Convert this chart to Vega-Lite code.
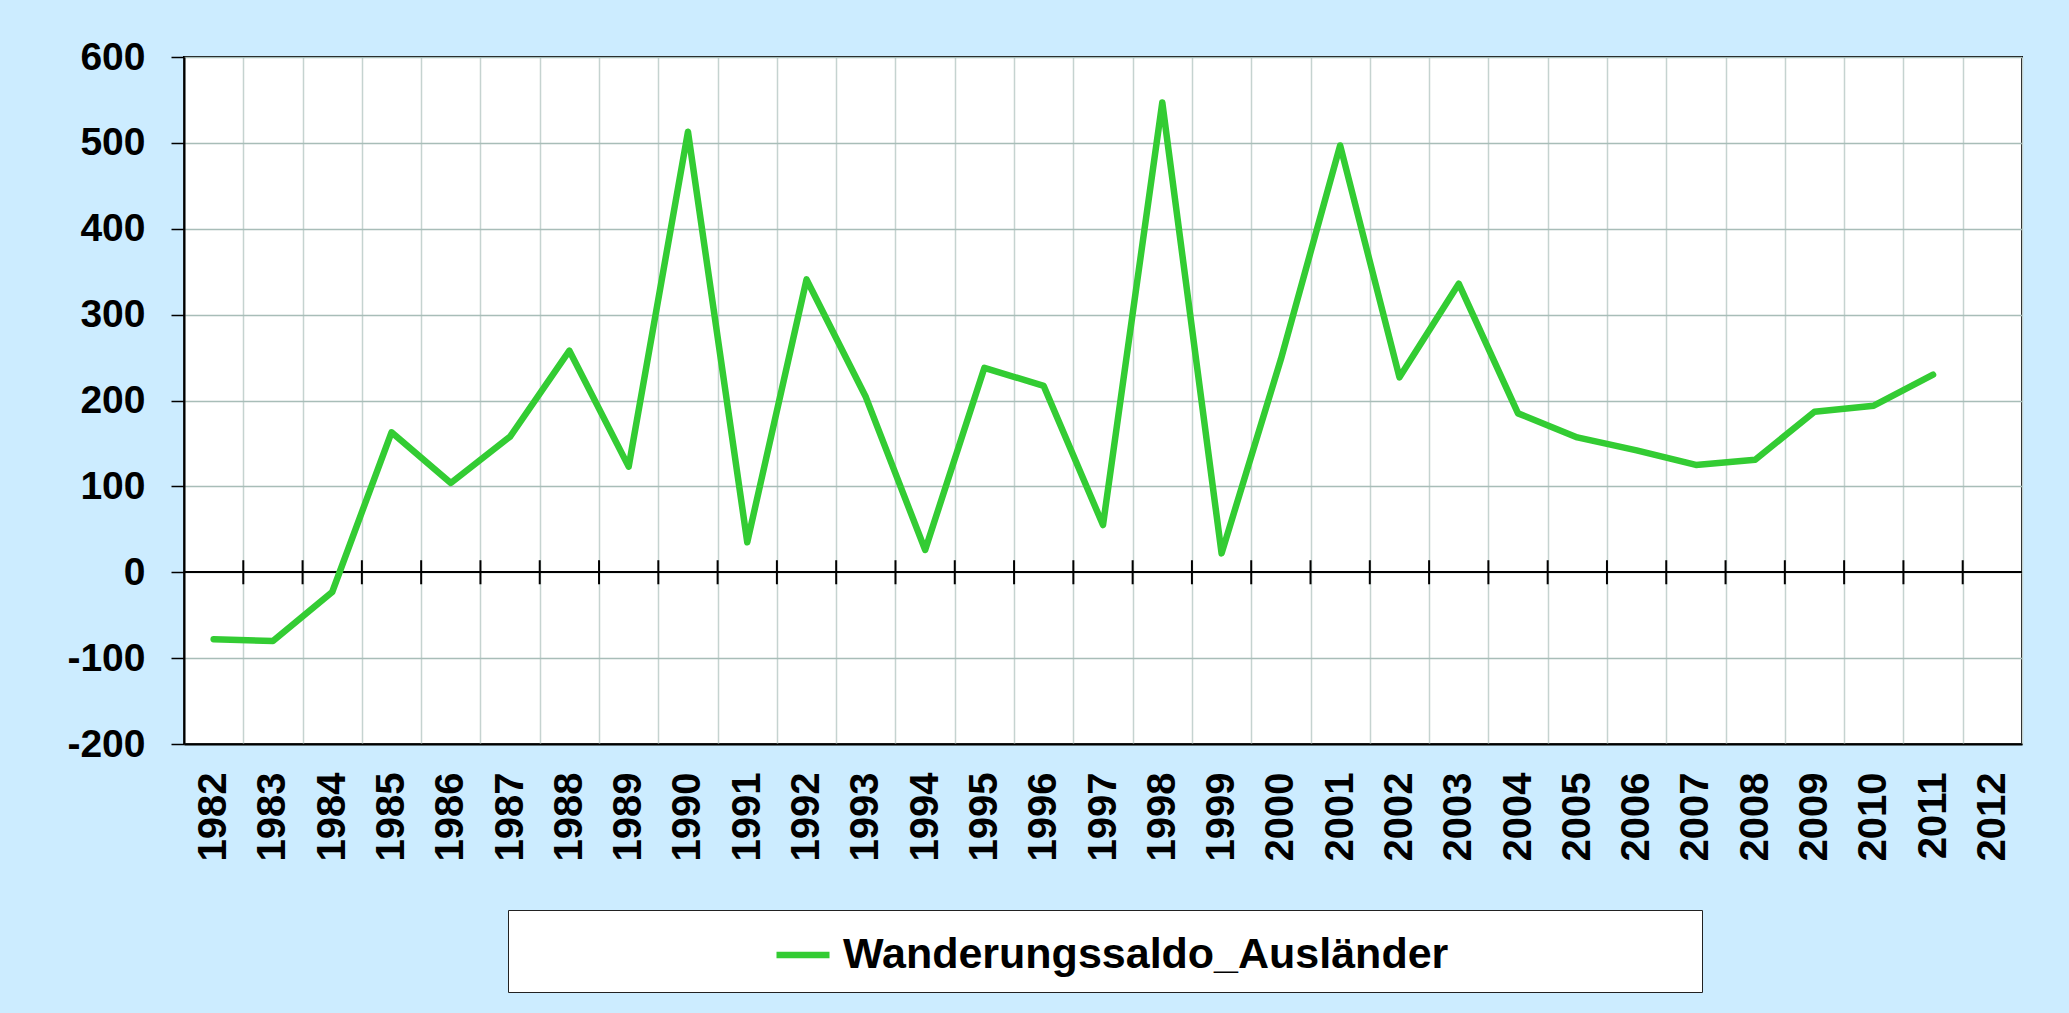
{
  "$schema": "https://vega.github.io/schema/vega-lite/v6.json",
  "autosize": {"type": "none"},
  "width": 1838,
  "height": 687,
  "padding": {"left": 184, "top": 57, "right": 47, "bottom": 269},
  "background": "#CCECFF",
  "config": {
    "font": "Liberation Sans",
    "view": {"fill": "white", "stroke": "black", "strokeWidth": 2}
  },
  "data": {
    "values": [
      {"Jahr": "1982", "Wert": -78},
      {"Jahr": "1983", "Wert": -80},
      {"Jahr": "1984", "Wert": -23},
      {"Jahr": "1985", "Wert": 163},
      {"Jahr": "1986", "Wert": 104},
      {"Jahr": "1987", "Wert": 158},
      {"Jahr": "1988", "Wert": 258},
      {"Jahr": "1989", "Wert": 123},
      {"Jahr": "1990", "Wert": 513},
      {"Jahr": "1991", "Wert": 35},
      {"Jahr": "1992", "Wert": 341},
      {"Jahr": "1993", "Wert": 204},
      {"Jahr": "1994", "Wert": 26},
      {"Jahr": "1995", "Wert": 238},
      {"Jahr": "1996", "Wert": 217},
      {"Jahr": "1997", "Wert": 55},
      {"Jahr": "1998", "Wert": 547},
      {"Jahr": "1999", "Wert": 22},
      {"Jahr": "2000", "Wert": 248},
      {"Jahr": "2001", "Wert": 497},
      {"Jahr": "2002", "Wert": 227},
      {"Jahr": "2003", "Wert": 336},
      {"Jahr": "2004", "Wert": 185},
      {"Jahr": "2005", "Wert": 157},
      {"Jahr": "2006", "Wert": 142},
      {"Jahr": "2007", "Wert": 125},
      {"Jahr": "2008", "Wert": 131},
      {"Jahr": "2009", "Wert": 187},
      {"Jahr": "2010", "Wert": 194},
      {"Jahr": "2011", "Wert": 230},
      {"Jahr": "2012", "Wert": null}
    ]
  },
  "layer": [
    {
      "mark": {"type": "rule", "color": "black", "strokeWidth": 1.5},
      "encoding": {
        "y": {"datum": 0, "type": "quantitative"}
      }
    },
    {
      "transform": [{"filter": "datum.Jahr != '1982'"}],
      "mark": {"type": "rule", "color": "black", "strokeWidth": 2},
      "encoding": {
        "x": {"field": "Jahr", "type": "ordinal", "bandPosition": 0},
        "y": {"datum": -14, "type": "quantitative"},
        "y2": {"datum": 14}
      }
    },
    {
      "mark": {"type": "line", "strokeWidth": 6.5, "strokeCap": "round", "strokeJoin": "round"},
      "encoding": {
        "x": {
          "field": "Jahr",
          "type": "ordinal",
          "bandPosition": 0.5,
          "scale": {
            "type": "band",
            "paddingInner": 0,
            "paddingOuter": 0,
            "domain": ["1982","1983","1984","1985","1986","1987","1988","1989","1990","1991","1992","1993","1994","1995","1996","1997","1998","1999","2000","2001","2002","2003","2004","2005","2006","2007","2008","2009","2010","2011","2012"]
          },
          "axis": {
            "title": null,
            "labelAngle": -90,
            "labelFontSize": 40,
            "labelFontWeight": "bold",
            "labelColor": "black",
            "ticks": false,
            "tickSize": 0,
            "labelPadding": 28,
            "tickBand": "extent",
            "grid": true,
            "gridColor": "#C5D3D0",
            "gridWidth": 1.5,
            "domainColor": "black",
            "domainWidth": 2
          }
        },
        "y": {
          "field": "Wert",
          "type": "quantitative",
          "scale": {"domain": [-200, 600], "nice": false, "zero": false},
          "axis": {
            "title": null,
            "values": [-200, -100, 0, 100, 200, 300, 400, 500, 600],
            "labelExpr": "toString(datum.value)",
            "labelFontSize": 39,
            "labelFontWeight": "bold",
            "labelColor": "black",
            "labelPadding": 26,
            "tickSize": 13,
            "tickColor": "black",
            "tickWidth": 1.5,
            "domainColor": "black",
            "domainWidth": 2,
            "grid": true,
            "gridColor": "#A8BDB8",
            "gridWidth": 1.5
          }
        },
        "color": {
          "datum": "Wanderungssaldo_Ausländer",
          "type": "nominal",
          "scale": {"range": ["#33CC33"]},
          "legend": {
            "orient": "none",
            "legendX": 324,
            "legendY": 853,
            "title": " ",
            "titleOrient": "right",
            "titlePadding": 239,
            "padding": 15,
            "fillColor": "white",
            "strokeColor": "#222222",
            "symbolType": "stroke",
            "symbolSize": 2809,
            "symbolStrokeWidth": 6.5,
            "symbolOffset": 250,
            "labelOffset": 10,
            "labelFontSize": 43,
            "labelFontWeight": "bold",
            "labelColor": "black",
            "labelLimit": 1000
          }
        }
      }
    }
  ]
}
